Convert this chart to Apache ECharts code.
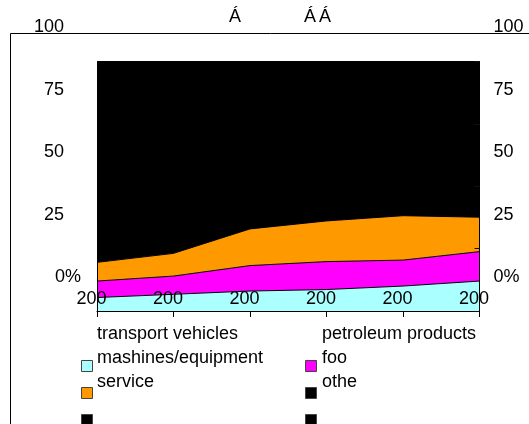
<!DOCTYPE html>
<html>
<head>
<meta charset="utf-8">
<script src="https://cdn.jsdelivr.net/npm/echarts@6/dist/echarts.min.js"></script>
<style>
html,body{margin:0;padding:0;background:#fff;}
#chart{width:529px;height:424px;}
</style>
</head>
<body>
<div id="chart"></div>
<script>
// ---- data ----
var categories = ['200', '200', '200', '200', '200', '200'];
var yTickLabels = ['0%', '25', '50', '75', '100'];
var seriesNames = ['transport vehicles', 'petroleum products', 'mashines/equipment', 'foo', 'service', 'othe'];
var transportVehicles = [5.4, 6.7, 8.0, 8.6, 10.0, 12.0];
var petroleumProducts = [6.6, 7.3, 10.2, 11.2, 10.4, 11.8];
var mashinesEquipment = [7.5, 9.1, 14.7, 16.3, 17.8, 13.8];
var foo = [80.5, 76.9, 67.1, 63.9, 61.8, 62.4];
var service = [0, 0, 0, 0, 0, 0];
var othe = [0, 0, 0, 0, 0, 0];
var titleMarks = ['Á', 'Á', 'Á'];

var seriesData = [transportVehicles, petroleumProducts, mashinesEquipment, foo, service, othe];
var seriesColors = ['#aaffff', '#ff00ff', '#ff9900', '#000000', '#000000', '#000000'];

var FONT = '"Liberation Sans", Arial, sans-serif';

var chart = echarts.init(document.getElementById('chart'), null, {renderer: 'canvas'});

var series = seriesNames.map(function (name, i) {
  return {
    name: name,
    type: 'line',
    stack: 'total',
    data: seriesData[i],
    symbol: 'none',
    color: seriesColors[i],
    itemStyle: {color: seriesColors[i]},
    lineStyle: {color: '#000', width: 1},
    areaStyle: {color: seriesColors[i], opacity: 1},
    emphasis: {disabled: true},
    animation: false
  };
});

function legendCommon(extra) {
  var base = {
    orient: 'vertical',
    padding: 0,
    selectedMode: false,
    height: 120,
    textStyle: {fontFamily: FONT, fontSize: 18, color: '#000'}
  };
  for (var k in extra) base[k] = extra[k];
  return base;
}

var option = {
  backgroundColor: '#fff',
  animation: false,
  textStyle: {fontFamily: FONT},
  grid: {left: 97, right: 49.5, top: 61.5, bottom: 113, containLabel: false},
  xAxis: {
    type: 'category',
    boundaryGap: false,
    data: categories,
    z: 10,
    axisLine: {show: true, lineStyle: {color: '#000', width: 1}},
    axisTick: {show: true, length: 6, inside: false, lineStyle: {color: '#000'}},
    axisLabel: {
      interval: 0,
      margin: -21,
      fontFamily: FONT,
      fontSize: 18,
      color: '#000',
      padding: [0, 11, 0, 0]
    },
    splitLine: {show: false}
  },
  yAxis: [
    {
      type: 'value',
      position: 'left',
      min: 0, max: 100, interval: 25,
      z: 10,
      axisLine: {show: true, lineStyle: {color: '#000'}},
      axisTick: {show: true, inside: true, length: 5, lineStyle: {color: '#000'}},
      splitLine: {show: false},
      axisLabel: {
        margin: 16,
        align: 'right',
        verticalAlign: 'bottom',
        formatter: function (v) {
          var t = yTickLabels[Math.round(v / 25)];
          return v === 0 ? '{z|' + t + '}' : '{a|' + t + '}';
        },
        rich: {
          a: {fontFamily: FONT, fontSize: 18, color: '#000', lineHeight: 68, padding: [0, 17, 0, 0]},
          z: {fontFamily: FONT, fontSize: 18, color: '#000', lineHeight: 68}
        }
      }
    },
    {
      type: 'value',
      position: 'right',
      min: 0, max: 100, interval: 25,
      z: 10,
      axisLine: {show: true, lineStyle: {color: '#000'}},
      axisTick: {show: true, inside: true, length: 5, lineStyle: {color: '#111'}},
      splitLine: {show: false},
      axisLabel: {
        margin: 14,
        align: 'left',
        verticalAlign: 'bottom',
        formatter: function (v) {
          return '{a|' + yTickLabels[Math.round(v / 25)] + '}';
        },
        rich: {
          a: {fontFamily: FONT, fontSize: 18, color: '#000', lineHeight: 68}
        }
      }
    }
  ],
  legend: [
    // icons, left column
    legendCommon({
      left: 81, top: 360,
      data: [seriesNames[0], seriesNames[2], seriesNames[4]],
      icon: 'rect', itemWidth: 11, itemHeight: 11, itemGap: 15,
      itemStyle: {borderColor: '#444', borderWidth: 1},
      formatter: function () { return ''; },
      textStyle: {fontSize: 1, lineHeight: 11}
    }),
    // icons, right column
    legendCommon({
      left: 305, top: 360,
      data: [seriesNames[1], seriesNames[3], seriesNames[5]],
      icon: 'rect', itemWidth: 11, itemHeight: 11, itemGap: 15,
      itemStyle: {borderColor: '#444', borderWidth: 1},
      formatter: function () { return ''; },
      textStyle: {fontSize: 1, lineHeight: 11}
    }),
    // texts, left column
    legendCommon({
      left: 92, top: 322,
      data: [seriesNames[0], seriesNames[2], seriesNames[4]],
      icon: 'none', itemWidth: 0, itemHeight: 24, itemGap: 0,
      textStyle: {fontFamily: FONT, fontSize: 18, color: '#000', lineHeight: 24}
    }),
    // texts, right column
    legendCommon({
      left: 317, top: 322,
      data: [seriesNames[1], seriesNames[3], seriesNames[5]],
      icon: 'none', itemWidth: 0, itemHeight: 24, itemGap: 0,
      textStyle: {fontFamily: FONT, fontSize: 18, color: '#000', lineHeight: 24}
    })
  ],
  graphic: [
    {
      type: 'rect', z: -1, silent: true,
      shape: {x: 10.5, y: 33.5, width: 600, height: 500},
      style: {fill: 'none', stroke: '#000', lineWidth: 1}
    },
    {
      type: 'text', left: 229, top: 8, silent: true,
      style: {text: titleMarks[0], font: '18px ' + FONT, fill: '#000'}
    },
    {
      type: 'text', left: 304, top: 8, silent: true,
      style: {text: titleMarks[1], font: '18px ' + FONT, fill: '#000'}
    },
    {
      type: 'text', left: 319, top: 8, silent: true,
      style: {text: titleMarks[2], font: '18px ' + FONT, fill: '#000'}
    }
  ],
  series: series
};

chart.setOption(option);
</script>
</body>
</html>
